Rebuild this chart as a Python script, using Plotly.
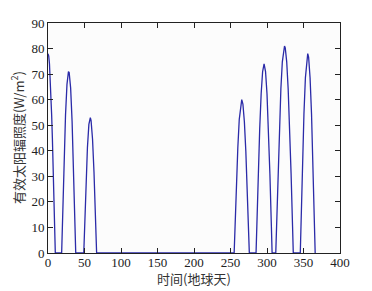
import plotly.graph_objects as go

# Data (day, effective irradiance)
days = [0, 1, 2, 3, 4, 5, 6, 7, 8, 9, 10,
        18.7, 20, 22, 24, 26, 27, 28, 29, 30, 31, 33, 35, 37, 38,
        49, 50, 52, 54, 56, 57, 58, 59, 61, 63, 65, 66.6,
        255, 256, 258, 260, 262, 264, 265.4, 267, 269, 271, 273, 275, 275.8,
        285, 286, 288, 290, 292, 294, 296, 298, 300, 302, 304, 306, 307,
        312, 313, 315, 317, 319, 321, 323, 324, 325, 327, 329, 331, 333, 335, 336,
        345.6, 346.6, 348.6, 350.6, 352.6, 354.6, 355.8, 357, 359, 361, 363, 365, 366]
irradiance = [78, 77, 74, 69, 62, 54, 45, 35, 24, 12, 0,
              0, 15, 36, 54, 66, 69, 71, 70.6, 68.5, 64.6, 51.5, 33.4, 11.6, 0,
              0, 9.4, 27, 41.2, 50.3, 52.5, 53, 51.8, 44.6, 31.7, 15, 0,
              0, 9, 26.2, 41, 52.3, 58.7, 60, 58.3, 51.4, 39.8, 24.6, 7.2, 0,
              0, 10.5, 30.7, 48.5, 62.3, 71, 74, 71, 62.3, 48.5, 30.7, 10.5, 0,
              0, 10.5, 31, 49.3, 64.2, 74.8, 80.3, 81, 80.3, 74.8, 64.2, 49.3, 31, 10.5, 0,
              0, 12, 34.9, 54.4, 68.6, 76.7, 78, 76.7, 68.6, 54.4, 34.9, 12, 0]

x_ticks = [0, 50, 100, 150, 200, 250, 300, 350, 400]
y_ticks = [0, 10, 20, 30, 40, 50, 60, 70, 80, 90]
x_title = "时间(地球天)"
y_title = "有效太阳辐照度(W/m<sup>2</sup>)"

fig = go.Figure()
fig.add_trace(go.Scatter(x=days, y=irradiance, mode="lines",
                         line=dict(color="#2a2aa8", width=1.3),
                         showlegend=False))

font_serif = "Liberation Serif, Times New Roman, serif"
font_cjk = "Noto Sans CJK SC, " + font_serif
axis_common = dict(showgrid=False, zeroline=False, showline=True, linecolor="#222222",
                   linewidth=1, mirror="ticks", ticks="inside", ticklen=5,
                   tickcolor="#222222", automargin=False,
                   tickfont=dict(family=font_serif, size=13, color="#222222"))

fig.update_xaxes(range=[0, 400], tickvals=x_ticks, ticklabelstandoff=-3, **axis_common)
fig.update_yaxes(range=[0, 90], tickvals=y_ticks, **axis_common)

fig.add_annotation(text=x_title, xref="paper", yref="paper", x=0.5, y=-0.11,
                   xanchor="center", yanchor="middle", showarrow=False,
                   font=dict(family=font_cjk, size=13, color="#333333"))
fig.add_annotation(text=y_title, xref="paper", yref="paper", x=-0.106, y=0.5,
                   xanchor="center", yanchor="middle", showarrow=False, textangle=-90,
                   font=dict(family=font_cjk, size=13, color="#333333"))

# page body has an 8px margin; size the figure so the plot area lands where the reference's does
fig.update_layout(width=364, height=283,
                  margin=dict(l=40, r=32, t=15, b=38),
                  paper_bgcolor="white", plot_bgcolor="#fcfcfc")

fig.write_html("out.html")
